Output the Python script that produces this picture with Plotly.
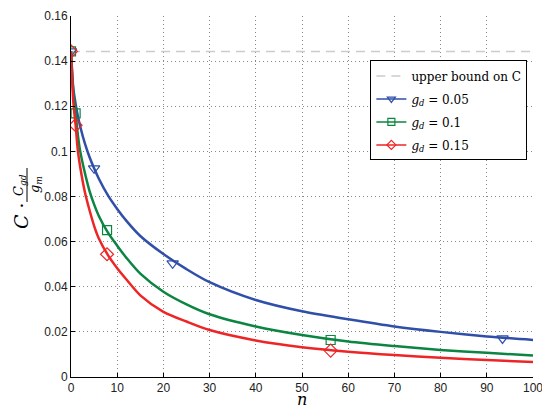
import plotly.graph_objects as go

# ---- data ----
n_vals = [0, 0.5, 1, 1.5, 2, 3, 4, 5, 6, 8, 10, 12, 15, 20, 25, 30, 40, 50, 60, 70, 80, 90, 100]
c_gd005 = [0.1443, 0.128, 0.121, 0.1155, 0.111, 0.1035, 0.0975, 0.0925, 0.0880, 0.0805, 0.0745, 0.0692,
           0.0625, 0.0545, 0.0478, 0.0420, 0.0341, 0.0291, 0.0256, 0.0224, 0.0200, 0.0180, 0.0164]
c_gd01 = [0.1443, 0.126, 0.1168, 0.107, 0.100, 0.0905, 0.0825, 0.0765, 0.0715, 0.0640, 0.0582, 0.0528,
          0.0458, 0.0378, 0.0322, 0.0278, 0.0224, 0.0186, 0.0157, 0.0137, 0.0120, 0.0107, 0.0095]
c_gd015 = [0.1443, 0.122, 0.1116, 0.100, 0.093, 0.0820, 0.0740, 0.0670, 0.0615, 0.0540, 0.0482, 0.0432,
           0.0362, 0.0289, 0.0246, 0.0208, 0.0162, 0.0132, 0.0112, 0.0097, 0.0085, 0.0075, 0.0066]

mk_n_005 = [0, 5, 22, 93.4]
mk_c_005 = [0.1443, 0.0925, 0.0504, 0.0171]
mk_n_01 = [0, 1, 7.8, 56.2]
mk_c_01 = [0.1443, 0.1168, 0.0651, 0.0164]
mk_n_015 = [0, 1, 7.8, 56.2]
mk_c_015 = [0.1443, 0.1116, 0.0544, 0.0117]

upper_bound = 0.1443
x_range = [0, 100]
x_ticks = [0, 10, 20, 30, 40, 50, 60, 70, 80, 90, 100]
y_ticks = [0, 0.02, 0.04, 0.06, 0.08, 0.1, 0.12, 0.14, 0.16]
y_ticktext = ["0", "0.02", "0.04", "0.06", "0.08", "0.1", "0.12", "0.14", "0.16"]

BLUE = "#2F4FA8"
GREEN = "#0C8542"
RED = "#EE2526"
SERIF = "DejaVu Serif"

fig = go.Figure()

# upper bound
fig.add_trace(go.Scatter(x=x_range, y=[upper_bound, upper_bound], mode="lines",
                         line=dict(color="#CCCCCC", width=1.5, dash="9px,6px"),
                         name="upper bound on C", legendgroup="ub"))

series = [
    (n_vals, c_gd005, mk_n_005, mk_c_005, BLUE, "triangle-down-open", 10, "<i>g<sub>d</sub></i> = 0.05", "a"),
    (n_vals, c_gd01, mk_n_01, mk_c_01, GREEN, "square-open", 9, "<i>g<sub>d</sub></i> = 0.1", "b"),
    (n_vals, c_gd015, mk_n_015, mk_c_015, RED, "diamond-open", 10, "<i>g<sub>d</sub></i> = 0.15", "c"),
]
for xs, ys, mx, my, col, sym, sz, name, grp in series:
    fig.add_trace(go.Scatter(x=xs, y=ys, mode="lines",
                             line=dict(color=col, width=2.5, shape="spline", smoothing=0.8),
                             showlegend=False, hoverinfo="skip"))
    fig.add_trace(go.Scatter(x=mx, y=my, mode="markers",
                             marker=dict(symbol=sym, size=sz, color=col, line=dict(width=1.2, color=col)),
                             showlegend=False))
    fig.add_trace(go.Scatter(x=[None], y=[None], mode="lines+markers", name=name, legendgroup=grp,
                             line=dict(color=col, width=1.5),
                             marker=dict(symbol=sym, size=7, color=col, line=dict(width=1.2, color=col))))

axis_common = dict(showline=True, linecolor="black", linewidth=1, ticks="inside", ticklen=4,
                   tickcolor="black", showgrid=True, gridcolor="#8a8a8a", griddash="1px,3px",
                   gridwidth=1, zeroline=False, mirror=False, ticklabeloverflow="allow",
                   automargin=False,
                   tickfont=dict(family="Liberation Sans", size=12, color="#222222"))

fig.update_layout(
    width=542, height=407,
    margin=dict(l=71, r=9, t=16, b=30, autoexpand=False),
    plot_bgcolor="white", paper_bgcolor="white",
    xaxis=dict(range=x_range, tickvals=x_ticks, **axis_common),
    yaxis=dict(range=[0, 0.16], tickvals=y_ticks, ticktext=y_ticktext, **axis_common),
    legend=dict(x=0.648, y=0.877, xanchor="left", yanchor="top", bgcolor="white",
                bordercolor="black", borderwidth=1, tracegroupgap=4,
                font=dict(family=SERIF, size=12, color="black")),
    showlegend=True,
)

def px_x(p):
    return (p - 71) / 462.0

def px_y(p):
    return (377 - p) / 361.0

# x-axis title
fig.add_annotation(text="<i>n</i>", xref="paper", yref="paper", x=0.5, y=px_y(411),
                   showarrow=False, font=dict(family=SERIF, size=16, color="black"),
                   xanchor="center", yanchor="bottom")

# y-axis title: C · Cgd/gm built from rotated pieces
fig.add_annotation(text="<i>C</i> ·", xref="paper", yref="paper", x=px_x(21), y=px_y(216),
                   showarrow=False, textangle=-90, font=dict(family=SERIF, size=19, color="black"),
                   xanchor="center", yanchor="middle")
fig.add_annotation(text="<i>C<sub>gd</sub></i>", xref="paper", yref="paper", x=px_x(19), y=px_y(185),
                   showarrow=False, textangle=-90, font=dict(family=SERIF, size=13, color="black"),
                   xanchor="center", yanchor="middle")
fig.add_annotation(text="<i>g<sub>m</sub></i>", xref="paper", yref="paper", x=px_x(35), y=px_y(185),
                   showarrow=False, textangle=-90, font=dict(family=SERIF, size=13, color="black"),
                   xanchor="center", yanchor="middle")
fig.add_shape(type="line", xref="paper", yref="paper", x0=px_x(27), x1=px_x(27),
              y0=px_y(168), y1=px_y(202), line=dict(color="black", width=1))

fig.write_html("out.html")
